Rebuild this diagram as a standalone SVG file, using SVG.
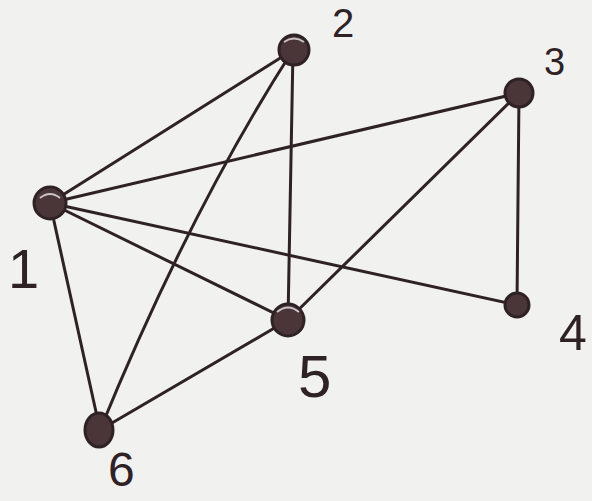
<svg xmlns="http://www.w3.org/2000/svg" width="592" height="501" viewBox="0 0 592 501">
<style>
.e{stroke:#2e2226;stroke-width:3;stroke-linecap:round;fill:none}
.n{fill:#4a3539;stroke:#2e2226;stroke-width:3}
.h{fill:none;stroke:#c9c3c6;stroke-width:2}
.t{font-family:"Liberation Sans",Arial,sans-serif;font-weight:normal;fill:#2e2226}
</style>
<rect width="592" height="501" fill="#f1f1ef"/>
<g id="connectors">
<line class="e" x1="50" y1="203" x2="293" y2="50"/>
<line class="e" x1="50" y1="203" x2="519" y2="93"/>
<line class="e" x1="50" y1="203" x2="517" y2="305"/>
<line class="e" x1="50" y1="203" x2="288" y2="320"/>
<line class="e" x1="50" y1="203" x2="100" y2="430"/>
<line class="e" x1="293" y1="50" x2="288" y2="320"/>
<path class="e" d="M293 50 Q190 210 100 430"/>
<line class="e" x1="519" y1="93" x2="288" y2="320"/>
<line class="e" x1="519" y1="93" x2="517" y2="305"/>
<line class="e" x1="288" y1="320" x2="100" y2="430"/>
</g>
<g id="node1"><circle class="n" cx="50" cy="203" r="16"/><path class="h" d="M40 198 Q50 190 60 198"/><text class="t" x="8" y="288" font-size="56">1</text></g>
<g id="node2"><circle class="n" cx="294" cy="50" r="15"/><path class="h" d="M284 42 Q294 35 304 42"/><text class="t" x="332" y="37" font-size="40">2</text></g>
<g id="node3"><circle class="n" cx="519" cy="93" r="14"/><text class="t" x="544" y="75" font-size="38">3</text></g>
<g id="node4"><circle class="n" cx="517" cy="305" r="12"/><text class="t" x="559" y="350" font-size="50">4</text></g>
<g id="node5"><circle class="n" cx="288" cy="320" r="16"/><path class="h" d="M277 312 Q288 303 299 312"/><text class="t" x="298" y="397" font-size="60">5</text></g>
<g id="node6"><ellipse class="n" cx="99" cy="430" rx="14" ry="17"/><text class="t" x="108" y="486" font-size="48">6</text></g>
</svg>
